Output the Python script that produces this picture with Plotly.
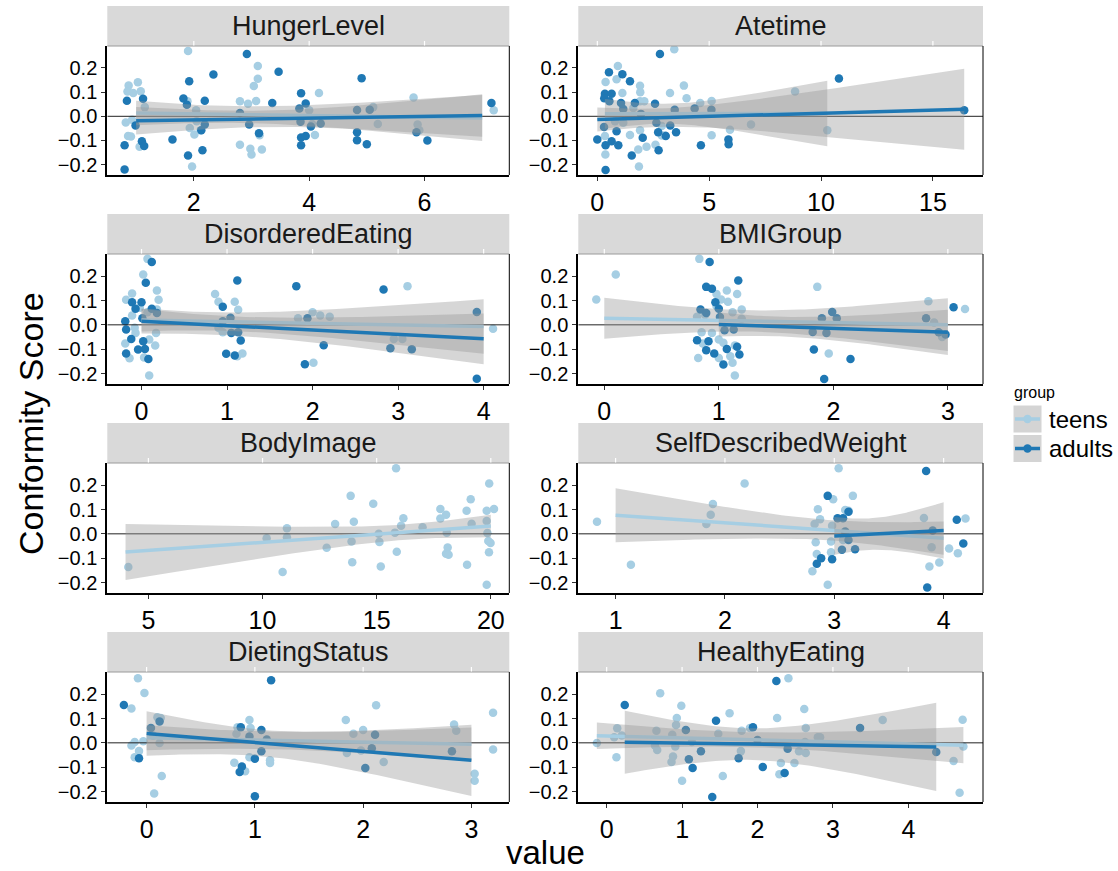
import numpy as np
import plotly.graph_objects as go

W, H = 1118, 871

facet_names = ["HungerLevel", "Atetime", "DisorderedEating", "BMIGroup",
               "BodyImage", "SelfDescribedWeight", "DietingStatus", "HealthyEating"]
# raw x is integer-valued (points are jittered) for these facets
facet_discrete = [True, False, True, True, True, True, True, False]

hunger_teens = [(1.9,0.27),(0.87,0.127),(1.03,0.141),(0.85,0.103),(0.95,0.096),(1.08,0.104),(0.82,-0.026),(0.93,-0.014),
    (0.86,-0.082),(0.91,-0.084),(1.06,-0.126),(1.15,0.038),(1.89,0.062),(2.04,0.025),(1.93,-0.048),(2.01,-0.075),
    (2.12,-0.058),(1.97,-0.208),(2.8,0.062),(2.94,0.052),(3.08,0.063),(3.04,0.125),(3.11,0.155),(3.11,0.208),
    (2.8,-0.118),(2.98,-0.134),(3.0,-0.158),(3.18,-0.137),(3.14,-0.078),(4.17,0.096),(4.0,0.025),(4.1,-0.077),
    (4.05,-0.032),(5.11,0.038),(5.19,-0.032),(5.81,0.078),(5.88,-0.034),(5.91,-0.058),(7.2,0.025),(2.05,-0.02)]
hunger_adults = [(0.84,0.064),(0.8,-0.12),(0.8,-0.22),(0.99,-0.038),(1.12,0.073),(1.1,-0.103),(1.14,-0.123),(1.63,-0.096),
    (1.82,0.074),(1.88,0.048),(1.92,0.145),(1.9,-0.162),(2.15,-0.141),(2.13,-0.058),(2.19,-0.034),(2.19,0.064),
    (2.34,0.173),(2.92,0.258),(2.96,-0.034),(3.13,-0.07),(3.36,0.055),(3.47,0.184),(3.86,0.095),(3.94,0.053),
    (3.83,0.032),(3.86,-0.088),(3.94,-0.082),(3.86,-0.12),(4.03,-0.042),(4.91,0.158),(4.83,-0.066),(4.83,-0.099),
    (5.0,-0.116),(5.05,0.027),(4.83,0.026),(5.86,-0.066),(6.05,-0.1),(7.16,0.055),(2.8,0.014),(3.85,-0.023),(4.2,-0.03)]

atetime_teens = [(0.92,0.208),(0.37,0.142),(0.86,0.153),(1.12,0.096),(1.91,0.126),(1.92,0.1),(1.91,0.062),(2.1,0.062),
    (3.25,0.096),(3.44,0.278),(3.87,0.127),(3.99,0.075),(4.6,0.055),(5.11,0.063),(0.34,-0.082),(0.36,-0.158),
    (1.46,-0.077),(1.83,-0.137),(1.86,-0.208),(1.91,-0.058),(2.2,-0.126),(2.6,-0.118),(2.88,-0.079),(3.03,-0.08),
    (5.11,-0.078),(5.93,-0.056),(6.87,-0.034),(8.84,0.103),(10.28,-0.058),(1.16,-0.027),(0.79,-0.02),(1.61,0.034),
    (2.88,-0.04)]
atetime_adults = [(0.0,-0.096),(0.37,-0.222),(0.52,0.182),(0.34,0.093),(0.31,0.075),(0.54,0.062),(0.64,0.093),(0.3,-0.044),
    (0.37,-0.12),(0.64,-0.103),(0.94,-0.12),(0.86,-0.062),(1.12,0.174),(1.06,0.055),(1.46,0.145),(1.54,-0.162),
    (2.03,-0.089),(1.68,0.055),(2.58,0.052),(2.64,-0.027),(2.72,-0.066),(2.8,0.258),(2.74,-0.141),(3.06,-0.082),
    (3.26,-0.038),(3.52,-0.066),(3.46,0.027),(4.35,0.032),(4.63,-0.12),(5.1,0.027),(5.86,-0.096),(5.87,-0.116),
    (10.8,0.156),(1.16,0.03),(1.95,0.01),(16.4,0.025)]

diseat_teens = [(0.07,0.271),(0.02,0.207),(-0.11,0.129),(-0.18,0.103),(0.18,0.141),(0.2,0.103),(-0.02,0.07),(-0.11,0.038),
    (0.07,0.052),(0.18,0.063),(-0.08,-0.012),(-0.07,-0.033),(0.17,-0.033),(-0.19,-0.077),(-0.14,-0.137),(0.03,-0.134),
    (0.09,-0.06),(0.16,-0.085),(0.09,-0.208),(0.86,0.127),(0.9,0.095),(1.09,0.095),(1.13,0.062),(0.95,-0.03),
    (0.9,-0.012),(1.18,-0.118),(1.12,-0.129),(2.0,0.052),(2.09,0.038),(2.2,0.033),(1.83,0.027),(2.01,-0.156),
    (2.95,-0.058),(3.05,-0.058),(3.11,0.159),(4.11,-0.016)]
diseat_adults = [(0.12,0.258),(0.05,0.173),(-0.11,0.093),(0.0,0.093),(-0.07,0.066),(-0.19,0.015),(-0.18,-0.019),(-0.12,-0.058),
    (-0.18,-0.118),(-0.04,-0.101),(0.04,-0.099),(0.02,-0.067),(0.08,-0.14),(0.01,0.027),(0.18,0.049),(0.12,0.066),
    (0.95,0.074),(0.95,0.015),(1.04,0.029),(1.12,0.182),(1.05,-0.033),(1.13,-0.03),(1.16,-0.064),(0.99,-0.119),
    (1.09,-0.126),(1.81,0.159),(1.94,0.027),(2.13,-0.084),(1.91,-0.162),(2.83,0.145),(2.91,-0.096),(3.16,-0.1),
    (3.92,0.053),(3.92,-0.221)]

bmi_teens = [(-0.07,0.104),(0.1,0.207),(0.83,0.271),(0.98,0.127),(1.07,0.141),(1.16,0.127),(1.08,0.095),(1.02,0.104),
    (0.98,0.077),(1.2,0.063),(1.12,0.052),(0.81,0.033),(0.88,0.04),(0.85,-0.03),(0.94,-0.033),(0.86,-0.077),
    (1.0,-0.06),(1.04,-0.074),(0.82,-0.136),(1.0,-0.136),(1.1,-0.129),(1.12,-0.156),(1.14,-0.208),(1.14,-0.085),
    (1.2,0.025),(1.86,0.156),(1.96,-0.118),(2.83,0.097),(3.15,0.065),(2.95,-0.05),(2.88,0.01)]
bmi_adults = [(0.92,0.258),(0.89,0.156),(0.94,0.148),(1.17,0.182),(0.97,0.093),(1.0,0.066),(0.84,0.063),(0.89,0.049),
    (1.01,0.032),(0.81,-0.063),(0.91,-0.067),(0.89,-0.104),(0.96,-0.118),(1.04,-0.163),(1.07,-0.099),(1.16,-0.09),
    (1.18,-0.122),(1.05,-0.022),(1.13,-0.019),(1.83,-0.101),(1.92,-0.222),(1.99,0.053),(2.15,-0.14),(1.9,0.027),
    (1.82,-0.029),(2.03,0.027),(1.94,-0.033),(2.81,0.027),(3.05,0.072),(2.98,-0.04),(2.92,-0.03)]

body_teens = [(4.12,-0.136),(10.18,-0.018),(10.88,-0.157),(11.07,0.023),(11.07,-0.014),(12.81,-0.057),(13.18,0.04),
    (13.86,0.156),(13.9,-0.031),(13.93,-0.117),(14.0,0.05),(14.85,0.124),(15.09,0.0),(15.12,-0.033),(15.18,-0.134),
    (15.85,0.269),(15.8,0.005),(15.88,-0.074),(16.07,0.033),(16.17,0.064),(17.01,0.027),(17.79,0.102),(17.79,0.063),
    (18.04,0.078),(18.07,0.005),(18.11,-0.056),(18.04,-0.082),(18.15,-0.086),(18.96,-0.127),(18.94,0.095),
    (19.12,0.142),(19.16,0.041),(19.93,0.207),(20.14,0.102),(19.82,0.095),(19.82,0.053),(19.85,0.003),
    (19.89,-0.029),(19.99,-0.038),(19.92,-0.076),(19.82,-0.209)]
body_adults = []

sdw_teens = [(0.83,0.05),(1.14,-0.127),(1.83,0.04),(1.89,0.123),(1.87,0.078),(2.18,0.207),(2.8,-0.154),(2.83,-0.035),
    (2.84,-0.083),(2.85,0.101),(2.87,0.06),(2.94,-0.209),(2.99,0.142),(2.97,-0.031),(2.97,-0.076),(3.04,0.269),
    (3.17,0.156),(3.1,0.098),(3.13,0.095),(3.08,-0.025),(2.82,0.04),(2.98,0.033),(3.82,0.065),(3.87,-0.134),
    (3.89,-0.055),(3.1,0.005),(3.96,-0.118),(4.2,0.063),(4.13,-0.08),(4.05,-0.06)]
sdw_adults = [(2.94,0.156),(2.84,-0.123),(2.88,-0.1),(2.98,-0.104),(3.03,0.064),(3.08,0.064),(3.13,0.091),(3.07,-0.065),
    (3.19,-0.063),(3.13,-0.025),(3.84,0.258),(3.85,-0.22),(3.9,0.014),(3.1,0.01),(4.12,0.058),(4.18,-0.04)]

diet_teens = [(-0.08,0.265),(-0.02,0.205),(-0.14,0.141),(-0.11,0.003),(-0.14,-0.011),(-0.07,-0.034),(-0.11,-0.059),
    (-0.03,0.007),(0.06,0.03),(0.1,0.105),(0.13,0.102),(0.12,-0.001),(0.14,-0.136),(0.07,-0.208),(0.83,0.037),
    (0.84,0.064),(0.95,0.094),(0.96,0.061),(0.81,-0.082),(0.91,-0.117),(0.95,-0.059),(1.14,-0.072),(1.14,-0.083),
    (1.84,0.094),(1.85,-0.042),(1.91,0.037),(2.0,0.053),(1.98,-0.031),(2.12,0.154),(2.19,-0.079),(2.84,0.075),
    (2.86,0.05),(3.03,-0.127),(3.03,-0.156),(3.2,0.124),(3.2,-0.027)]
diet_adults = [(-0.21,0.155),(-0.07,-0.063),(0.04,0.061),(0.12,0.088),(0.87,0.064),(0.88,-0.097),(0.86,-0.12),(1.0,-0.065),
    (1.0,-0.219),(1.06,0.053),(1.15,0.257),(1.06,-0.035),(0.95,0.026),(1.11,0.014),(2.02,-0.103),(2.11,0.033),
    (2.08,-0.022),(2.82,-0.035)]

healthy_teens = [(-0.13,-0.001),(0.14,0.06),(0.13,-0.059),(0.66,0.05),(0.64,-0.011),(0.67,-0.029),(0.71,0.204),(0.86,-0.079),
    (0.88,-0.056),(0.87,0.033),(0.92,0.073),(0.93,0.102),(0.99,0.152),(0.91,-0.015),(1.0,-0.156),(1.13,0.003),
    (1.48,0.037),(1.54,-0.136),(1.63,0.122),(1.79,0.05),(1.78,-0.034),(1.9,0.061),(2.26,0.102),(2.41,0.265),
    (2.29,-0.129),(2.31,-0.083),(2.49,-0.083),(2.55,-0.035),(2.62,0.139),(2.64,0.061),(2.63,0.003),(2.64,-0.042),
    (2.8,0.023),(2.83,0.023),(3.66,0.094),(0.1,0.023),(0.2,0.03),(4.72,0.095),(4.6,-0.075),(4.68,-0.205),(4.73,-0.015)]
healthy_adults = [(0.24,0.155),(1.05,0.053),(1.09,-0.067),(1.14,-0.103),(1.25,-0.035),(1.4,-0.222),(1.45,0.091),(1.75,-0.063),
    (1.94,0.064),(2.0,0.012),(2.07,-0.099),(2.25,0.254),(2.36,-0.124),(2.4,-0.024),(3.36,0.061),(4.37,-0.038)]

teens_data = [hunger_teens, atetime_teens, diseat_teens, bmi_teens, body_teens, sdw_teens, diet_teens, healthy_teens]
adults_data = [hunger_adults, atetime_adults, diseat_adults, bmi_adults, body_adults, sdw_adults, diet_adults, healthy_adults]

x_ticks = [[2, 4, 6], [0, 5, 10, 15], [0, 1, 2, 3, 4], [0, 1, 2, 3],
           [5, 10, 15, 20], [1, 2, 3, 4], [0, 1, 2, 3], [0, 1, 2, 3, 4]]
y_ticks = [-0.2, -0.1, 0.0, 0.1, 0.2]
group_names = ["teens", "adults"]

# ---------------- styling / layout ----------------
x_ranges = [[0.50, 7.47], [-0.85, 17.24], [-0.40, 4.30], [-0.227, 3.307],
            [3.20, 20.81], [0.659, 4.36], [-0.363, 3.35], [-0.376, 4.99]]
y_range = [-0.243, 0.291]
col_px = [(107.3, 509.3), (578.3, 983.0)]
row_px = [(46, 175), (254, 384), (463, 593), (672, 802)]
strip_h = 40
colors = {"teens": "#a6cee3", "adults": "#1f78b4"}
FONT = "Liberation Sans, Arial, Helvetica, sans-serif"


def tcrit(df):
    z = 1.959964
    return z + (z**3 + z) / (4 * df) + (5 * z**5 + 16 * z**3 + 3 * z) / (96 * df**2)


def lm_fit(pts, discrete):
    x = np.array([p[0] for p in pts], dtype=float)
    y = np.array([p[1] for p in pts], dtype=float)
    if discrete:
        x = np.round(x)
    n = len(x)
    X = np.column_stack([np.ones(n), x])
    beta, *_ = np.linalg.lstsq(X, y, rcond=None)
    res = y - X @ beta
    s2 = res @ res / (n - 2)
    xbar = x.mean()
    sxx = ((x - xbar) ** 2).sum()
    xg = np.linspace(x.min(), x.max(), 80)
    yh = beta[0] + beta[1] * xg
    se = np.sqrt(s2 * (1.0 / n + (xg - xbar) ** 2 / sxx))
    t = tcrit(n - 2)
    return xg, yh, yh - t * se, yh + t * se


fig = go.Figure()
shapes = []
annotations = []

for i, name in enumerate(facet_names):
    r, c = divmod(i, 2)
    k = i + 1
    xa = "x" if k == 1 else f"x{k}"
    ya = "y" if k == 1 else f"y{k}"
    x0, x1 = col_px[c]
    y0, y1 = row_px[r]

    fig.update_layout(**{
        ("xaxis" if k == 1 else f"xaxis{k}"): dict(
            domain=[x0 / W, x1 / W], anchor=ya, range=x_ranges[i],
            tickvals=x_ticks[i], ticks="outside", ticklen=4, tickwidth=1, tickcolor="#333333",
            showline=True, linewidth=2, linecolor="black", showgrid=False, zeroline=False,
            tickfont=dict(family=FONT, size=25, color="black")),
        ("yaxis" if k == 1 else f"yaxis{k}"): dict(
            domain=[1 - y1 / H, 1 - y0 / H], anchor=xa, range=y_range,
            tickvals=y_ticks, tickformat=".1f", ticks="outside", ticklen=4, tickwidth=1,
            tickcolor="#333333", showline=True, linewidth=2, linecolor="black",
            showgrid=False, zeroline=False,
            tickfont=dict(family=FONT, size=20, color="black")),
    })

    # points
    for g, data in (("teens", teens_data[i]), ("adults", adults_data[i])):
        if not data:
            continue
        fig.add_trace(go.Scatter(
            x=[p[0] for p in data], y=[p[1] for p in data], mode="markers",
            marker=dict(color=colors[g], size=8.5, line=dict(width=0)),
            xaxis=xa, yaxis=ya, showlegend=False, hoverinfo="skip"))

    # zero line
    fig.add_trace(go.Scatter(x=x_ranges[i], y=[0, 0], mode="lines",
                             line=dict(color="#222222", width=1),
                             xaxis=xa, yaxis=ya, showlegend=False, hoverinfo="skip"))

    # smooths (lm with 95% CI)
    for g, data in (("teens", teens_data[i]), ("adults", adults_data[i])):
        if len(data) < 3:
            continue
        xg, yh, lo, hi = lm_fit(data, facet_discrete[i])
        fig.add_trace(go.Scatter(
            x=np.concatenate([xg, xg[::-1]]), y=np.concatenate([hi, lo[::-1]]),
            mode="lines", fill="toself", fillcolor="rgba(153,153,153,0.4)",
            line=dict(width=0), xaxis=xa, yaxis=ya, showlegend=False, hoverinfo="skip"))
        fig.add_trace(go.Scatter(
            x=xg, y=yh, mode="lines", line=dict(color=colors[g], width=3.5),
            xaxis=xa, yaxis=ya, showlegend=False, hoverinfo="skip"))

    # strip
    shapes.append(dict(type="rect", xref="paper", yref="paper",
                       x0=x0 / W, x1=x1 / W, y0=1 - y0 / H, y1=1 - (y0 - strip_h) / H,
                       fillcolor="#d9d9d9", line=dict(width=0), layer="below"))
    shapes.append(dict(type="line", xref="paper", yref="paper",
                       x0=x0 / W, x1=x1 / W, y0=1 - y0 / H, y1=1 - y0 / H,
                       line=dict(color="#9a9a9a", width=1)))
    # small white grid marks showing through the strip bottom
    for tv in x_ticks[i]:
        shapes.append(dict(type="line", xref=xa, yref="paper", x0=tv, x1=tv,
                           y0=1 - (y0 - 0.5) / H, y1=1 - (y0 - 5) / H,
                           line=dict(color="white", width=1.2)))
    shapes.append(dict(type="line", xref="paper", yref="paper",
                       x0=x1 / W, x1=x1 / W, y0=1 - y1 / H, y1=1 - y0 / H,
                       line=dict(color="black", width=1)))
    annotations.append(dict(text=name, xref="paper", yref="paper",
                            x=(x0 + x1) / 2 / W, y=1 - (y0 - strip_h / 2) / H,
                            xanchor="center", yanchor="middle", showarrow=False,
                            font=dict(family=FONT, size=27, color="#1a1a1a")))

# axis titles
annotations.append(dict(text="value", xref="paper", yref="paper", x=545 / W, y=1 - 852 / H,
                        xanchor="center", yanchor="middle", showarrow=False,
                        font=dict(family=FONT, size=33, color="black")))
annotations.append(dict(text="Conformity Score", xref="paper", yref="paper", x=31 / W, y=1 - 424 / H,
                        xanchor="center", yanchor="middle", showarrow=False, textangle=-90,
                        font=dict(family=FONT, size=34, color="black")))

# legend (drawn manually, ggplot style)
annotations.append(dict(text="group", xref="paper", yref="paper", x=1012 / W, y=1 - 392 / H,
                        xanchor="left", yanchor="middle", showarrow=False,
                        font=dict(family=FONT, size=16, color="black")))
key_top = [405, 434.5]
for g, kt in zip(group_names, key_top):
    kx0, kx1 = 1013, 1042
    shapes.append(dict(type="rect", xref="paper", yref="paper",
                       x0=kx0 / W, x1=kx1 / W, y0=1 - (kt + 28) / H, y1=1 - kt / H,
                       fillcolor="#d4d4d4", line=dict(color="white", width=1)))
    cy = 1 - (kt + 14) / H
    shapes.append(dict(type="line", xref="paper", yref="paper",
                       x0=(kx0 + 2) / W, x1=(kx1 - 2) / W, y0=cy, y1=cy,
                       line=dict(color=colors[g], width=3.5)))
    shapes.append(dict(type="circle", xref="paper", yref="paper",
                       x0=(kx0 + 14.5 - 4.2) / W, x1=(kx0 + 14.5 + 4.2) / W,
                       y0=cy - 4.2 / H, y1=cy + 4.2 / H,
                       fillcolor=colors[g], line=dict(width=0)))
    annotations.append(dict(text=g, xref="paper", yref="paper", x=1047 / W, y=cy,
                            xanchor="left", yanchor="middle", showarrow=False,
                            font=dict(family=FONT, size=24, color="black")))

fig.update_layout(width=W, height=H, margin=dict(l=0, r=0, t=0, b=0),
                  plot_bgcolor="white", paper_bgcolor="white", showlegend=False,
                  shapes=shapes, annotations=annotations)

fig.write_html("out.html")
